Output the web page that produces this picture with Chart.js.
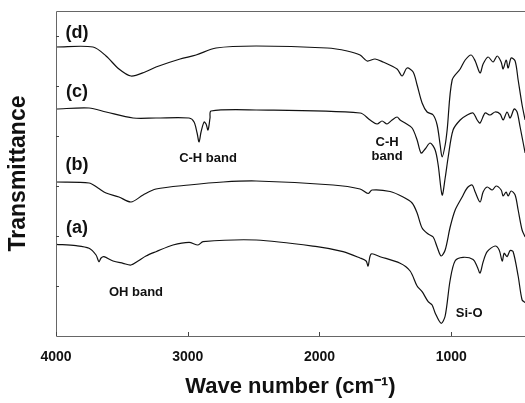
<!DOCTYPE html>
<html>
<head>
<meta charset="utf-8">
<script src="https://cdn.jsdelivr.net/npm/chart.js@4.4.1/dist/chart.umd.min.js"></script>
<style>
html,body{margin:0;padding:0;background:#fff;}
#wrap{width:525px;height:403px;position:relative;}
</style>
</head>
<body>
<div id="wrap"><canvas id="c" width="525" height="403"></canvas></div>
<script>
// Wavenumber (cm-1) and transmittance (arbitrary, offset) for each spectrum
const WN_D = [4000,3719,3620,3522,3431,3324,3241,3058,2937,2785,2481,1942,1790,1692,1639,1578,1517,1411,1373,1335,1289,1259,1221,1183,1137,1107,1084,1069,1046,1031,993,932,894,849,818,781,758,720,682,651,621,606,583,568,545,515,492,462,439];
const T_D  = [289,289,280,267,260,264,269,277,281,288,290,288,285,281,275,277,274,267,260,268,264,251,233,224,221,211,191,179,191,206,256,267,276,281,275,263,272,279,274,280,274,267,276,268,278,275,256,231,216];

const WN_C = [4000,3749,3620,3415,3241,2990,2952,2929,2914,2899,2876,2861,2846,2831,2823,2481,1692,1616,1563,1525,1487,1449,1411,1388,1350,1297,1259,1229,1198,1160,1122,1099,1069,1046,1023,986,932,879,834,803,781,743,705,667,629,606,576,553,522,500,477,439];
const T_C  = [227,228,224,218,218,218,214,203,194,204,214,212,206,218,225,226,223,216,212,215,212,216,219,216,213,208,196,183,187,193,186,171,141,158,179,206,216,221,223,216,213,223,221,224,222,216,224,218,227,224,209,183];

const WN_B = [4000,3749,3681,3620,3522,3431,3339,3241,2990,2732,2481,1897,1692,1631,1601,1464,1365,1297,1259,1221,1175,1137,1107,1077,1046,1008,970,917,879,841,818,781,758,727,689,659,621,606,583,568,545,515,492,462,439];
const T_B  = [154,153,148,143,139,134,141,147,151,154,155,151,147,142.5,146,144.5,139,133,123,108,102,99,89,80,86,109,126,139,148,151,144,134,144,149,146,150,146,140,144,140,145,141,126,106,99];

const WN_A = [4000,3848,3749,3696,3674,3658,3636,3567,3491,3431,3377,3317,3241,3112,2990,2922,2884,2481,2018,1821,1692,1646,1631,1608,1540,1388,1312,1259,1221,1175,1145,1122,1077,1046,1008,970,910,834,803,781,758,727,667,636,613,598,576,553,530,492,462,439];
const T_A  = [91.7,90.3,87.7,81,74.3,78,79.3,75,72.7,71,75,80,84.3,91,93.7,91,94.3,96,89.3,84.3,78,75,70,82,79.3,72.7,65,50,44.3,34.3,31,23,12.7,20,56,75.3,78.7,76.5,69.3,63,74,84.3,90,86,75,82.7,79.3,85.5,84.3,60,36,33.5];

const X_TICKS = [4000,3000,2000,1000];
const CURVE_LABELS = [
  {text:'(d)', x:3840, y:303},
  {text:'(c)', x:3840, y:244},
  {text:'(b)', x:3840, y:171},
  {text:'(a)', x:3840, y:108}
];
const BAND_LABELS = [
  {text:'C-H band', x:2846, y:178},
  {text:'C-H', x:1487, y:194},
  {text:'band', x:1487, y:180},
  {text:'OH band', x:3393, y:44},
  {text:'Si-O', x:864, y:23}
];

const FONT = '"Liberation Sans", Arial, Helvetica, sans-serif';
function pts(xs, ys){ return xs.map((x,i)=>({x:x, y:ys[i]})); }
function ds(xs, ys){
  return {data:pts(xs,ys), borderColor:'#111', borderWidth:1.2, pointRadius:0, tension:0.3, fill:false};
}

const annot = {
  id:'annot',
  afterDraw(chart){
    const {ctx, chartArea:a, scales:{x, y}} = chart;
    ctx.save();
    // frame
    ctx.strokeStyle = '#666';
    ctx.lineWidth = 1;
    ctx.beginPath();
    ctx.moveTo(a.left+0.5, a.bottom+0.5);
    ctx.lineTo(a.left+0.5, a.top+0.5);
    ctx.lineTo(a.right, a.top+0.5);
    ctx.moveTo(a.left+0.5, a.bottom+0.5);
    ctx.lineTo(a.right, a.bottom+0.5);
    ctx.stroke();
    // inward ticks
    ctx.strokeStyle = '#444';
    ctx.beginPath();
    X_TICKS.forEach(v=>{
      const px = Math.round(x.getPixelForValue(v))+0.5;
      ctx.moveTo(px, a.bottom); ctx.lineTo(px, a.bottom-4);
    });
    [50,100,150,200,250,300].forEach(v=>{
      const py = Math.round(y.getPixelForValue(v))+0.5;
      ctx.moveTo(a.left, py); ctx.lineTo(a.left+3, py);
    });
    ctx.stroke();
    ctx.fillStyle = '#111';
    ctx.textAlign = 'center';
    ctx.textBaseline = 'middle';
    ctx.font = 'bold 18px ' + FONT;
    CURVE_LABELS.forEach(l=>ctx.fillText(l.text, x.getPixelForValue(l.x), y.getPixelForValue(l.y)));
    ctx.font = 'bold 13px ' + FONT;
    BAND_LABELS.forEach(l=>ctx.fillText(l.text, x.getPixelForValue(l.x), y.getPixelForValue(l.y)));
    ctx.restore();
  }
};

new Chart(document.getElementById('c'), {
  type:'line',
  data:{datasets:[ds(WN_D,T_D), ds(WN_C,T_C), ds(WN_B,T_B), ds(WN_A,T_A)]},
  options:{
    responsive:false,
    animation:false,
    events:[],
    layout:{padding:{top:11, right:0, left:0, bottom:0}},
    plugins:{legend:{display:false}, tooltip:{enabled:false}},
    scales:{
      x:{
        type:'linear', reverse:true, min:440, max:4000,
        afterBuildTicks(s){ s.ticks = X_TICKS.map(v=>({value:v})); },
        afterFit(s){ s.height = 67; },
        grid:{display:false},
        border:{display:false},
        ticks:{color:'#111', font:{family:FONT, size:14, weight:'bold'}, padding:5, maxRotation:0, callback:(v)=>String(v)},
        title:{display:true, text:'Wave number (cm\u207B\u00B9)', color:'#111', font:{family:FONT, size:22, weight:'bold'}, padding:{top:2,bottom:3}}
      },
      y:{
        type:'linear', min:0, max:325,
        afterFit(s){ s.width = 56; },
        grid:{display:false},
        border:{display:false},
        ticks:{display:false},
        title:{display:true, text:'Transmittance', color:'#111', font:{family:FONT, size:23, weight:'bold'}, padding:{top:5,bottom:0}}
      }
    }
  },
  plugins:[annot]
});
</script>
</body>
</html>
